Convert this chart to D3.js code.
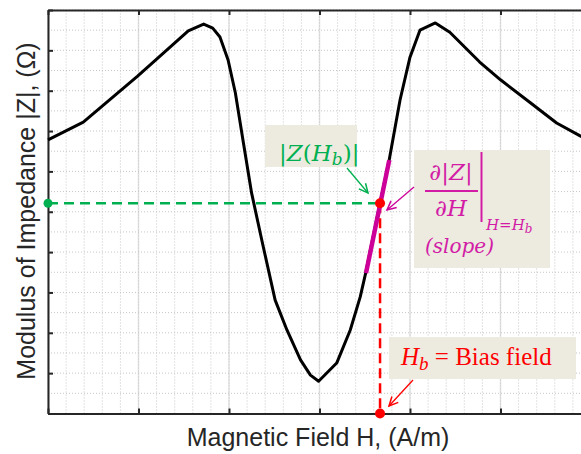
<!DOCTYPE html>
<html>
<head>
<meta charset="utf-8">
<script src="https://cdn.jsdelivr.net/npm/d3@7"></script>
<style>
  body { margin: 0; background: #fff; }
  svg { display: block; }
</style>
</head>
<body>
<div id="chart"></div>
<script>
// GMI curve: field H and |Z| in grid units (no tick labels on the original)
var hField = [0, 0.39, 0.99, 1.55, 1.72, 1.82, 1.90, 1.99, 2.07, 2.16, 2.25, 2.37, 2.51, 2.64, 2.79, 2.90, 2.99,
              3.19, 3.34, 3.45, 3.51, 3.67, 3.77, 3.89, 4.00, 4.11, 4.28, 4.44, 4.77, 5.00, 5.33, 5.62, 5.88, 6.00];
var impedance = [6.78, 7.22, 8.36, 9.48, 9.65, 9.55, 9.33, 8.76, 7.95, 6.70, 5.46, 4.22, 2.81, 2.07, 1.33, 0.95, 0.80,
                 1.25, 2.07, 2.89, 3.48, 5.22, 6.28, 7.77, 8.83, 9.50, 9.68, 9.45, 8.71, 8.27, 7.70, 7.20, 6.88, 6.75];

// tangent (slope) segment around the bias point
var slopeH = [3.514, 3.771];
var slopeZ = [3.48, 6.28];

// bias point
var biasH = 3.669;
var biasZ = 5.21;

var xTicks = [0, 1, 2, 3, 4, 5, 6];
var yTicks = [0, 1, 2, 3, 4, 5, 6, 7, 8, 9, 10];
var xMinor = d3.range(0, 6.01, 0.2);
var yMinor = d3.range(0, 10.01, 0.5);

var width = 581, height = 454;
var margin = { top: 10, right: -10, bottom: 40.5, left: 48 };

var green = "#00b050", red = "#ff0000", magenta = "#cc0099", magText = "#d21ca6";
var boxFill = "#edebe0";

var svg = d3.select("#chart").append("svg")
    .attr("width", width)
    .attr("height", height);

var x = d3.scaleLinear().domain([0, 6]).range([margin.left, width - margin.right]);
var y = d3.scaleLinear().domain([0, 10]).range([height - margin.bottom, margin.top]);

// grid
var grid = svg.append("g");
grid.selectAll(".vminor").data(xMinor).enter().append("line")
    .attr("x1", d => x(d)).attr("x2", d => x(d))
    .attr("y1", y(0)).attr("y2", y(10))
    .attr("stroke", "#c6c6c6").attr("stroke-width", 1)
    .attr("stroke-dasharray", "1,2");
grid.selectAll(".hminor").data(yMinor).enter().append("line")
    .attr("x1", x(0)).attr("x2", x(6))
    .attr("y1", d => y(d)).attr("y2", d => y(d))
    .attr("stroke", "#c6c6c6").attr("stroke-width", 1)
    .attr("stroke-dasharray", "1,2");
grid.selectAll(".vmajor").data(xTicks).enter().append("line")
    .attr("x1", d => x(d)).attr("x2", d => x(d))
    .attr("y1", y(0)).attr("y2", y(10))
    .attr("stroke", "#c8c8c8").attr("stroke-width", 1.5)
    .attr("stroke-dasharray", "1,1");

// axes with inward ticks, no labels
function styleAxis(g) {
    g.select(".domain").attr("stroke", "#262626").attr("stroke-width", 2);
    g.selectAll(".tick line").attr("stroke", "#262626").attr("stroke-width", 2);
}
svg.append("g")
    .attr("transform", "translate(0," + y(0) + ")")
    .call(d3.axisBottom(x).tickValues(xTicks).tickSizeInner(-5).tickSizeOuter(0).tickFormat(""))
    .call(styleAxis);
svg.append("g")
    .attr("transform", "translate(0," + y(10) + ")")
    .call(d3.axisTop(x).tickValues(xTicks).tickSizeInner(-5).tickSizeOuter(0).tickFormat(""))
    .call(styleAxis);
svg.append("g")
    .attr("transform", "translate(" + x(0) + ",0)")
    .call(d3.axisLeft(y).tickValues(yTicks).tickSizeInner(-5).tickSizeOuter(0).tickFormat(""))
    .call(styleAxis);

// curve
var line = d3.line().x(d => x(d[0])).y(d => y(d[1]));
svg.append("path")
    .datum(d3.zip(hField, impedance))
    .attr("d", line)
    .attr("fill", "none")
    .attr("stroke", "#000")
    .attr("stroke-width", 3)
    .attr("stroke-linejoin", "round");

// dashed guides to the axes
svg.append("line")
    .attr("x1", x(0)).attr("x2", x(biasH))
    .attr("y1", y(biasZ)).attr("y2", y(biasZ))
    .attr("stroke", green).attr("stroke-width", 2.5)
    .attr("stroke-dasharray", "10,6");
svg.append("line")
    .attr("x1", x(biasH)).attr("x2", x(biasH))
    .attr("y1", y(biasZ)).attr("y2", y(0))
    .attr("stroke", red).attr("stroke-width", 2.5)
    .attr("stroke-dasharray", "10,5");

// slope segment
svg.append("path")
    .datum(d3.zip(slopeH, slopeZ))
    .attr("d", line)
    .attr("stroke", magenta)
    .attr("stroke-width", 4.5);

// points
svg.append("circle").attr("cx", x(0)).attr("cy", y(biasZ)).attr("r", 4.5).attr("fill", green);
svg.append("circle").attr("cx", x(biasH)).attr("cy", y(biasZ)).attr("r", 5).attr("fill", red);
svg.append("circle").attr("cx", x(biasH)).attr("cy", y(0)).attr("r", 5).attr("fill", red);

// annotation boxes
function box(x0, y0, w, h) {
    svg.append("rect").attr("x", x0).attr("y", y0).attr("width", w).attr("height", h).attr("fill", boxFill);
}
box(265, 125, 92, 42);
box(414, 150, 136, 118);
box(389, 337, 187, 42);

function arrow(x1, y1, x2, y2, color) {
    svg.append("line").attr("x1", x1).attr("y1", y1).attr("x2", x2).attr("y2", y2)
        .attr("stroke", color).attr("stroke-width", 1.3);
    var a = Math.atan2(y2 - y1, x2 - x1), L = 10, s = 0.45;
    svg.append("path")
        .attr("d", "M" + (x2 - L * Math.cos(a - s)) + "," + (y2 - L * Math.sin(a - s)) +
            "L" + x2 + "," + y2 +
            "L" + (x2 - L * Math.cos(a + s)) + "," + (y2 - L * Math.sin(a + s)))
        .attr("fill", "none").attr("stroke", color).attr("stroke-width", 1.5);
}
arrow(347, 168, 368, 193, green);
arrow(414, 187, 387, 210, magenta);
arrow(413, 380, 389, 406, red);

var serif = "'DejaVu Serif', serif";
var times = "'Liberation Serif', 'Times New Roman', serif";

// |Z(H_b)|
var t1 = svg.append("text").attr("x", 279).attr("y", 161)
    .attr("font-family", serif).attr("font-size", 23).attr("fill", green);
t1.append("tspan").text("|");
t1.append("tspan").attr("font-style", "italic").text("Z");
t1.append("tspan").text("(");
t1.append("tspan").attr("font-style", "italic").text("H");
t1.append("tspan").attr("font-style", "italic").attr("font-size", 17).attr("dy", 4).text("b");
t1.append("tspan").attr("dy", -4).text(")|");

// derivative
svg.append("text").attr("x", 451).attr("y", 180).attr("text-anchor", "middle")
    .attr("font-family", serif).attr("font-size", 23).attr("fill", magText)
    .html("<tspan font-style='italic'>∂</tspan>|<tspan font-style='italic'>Z</tspan>|");
svg.append("line").attr("x1", 425).attr("x2", 478).attr("y1", 191).attr("y2", 191)
    .attr("stroke", magText).attr("stroke-width", 2);
svg.append("text").attr("x", 451).attr("y", 216).attr("text-anchor", "middle")
    .attr("font-family", serif).attr("font-size", 23).attr("fill", magText)
    .attr("font-style", "italic").text("∂H");
svg.append("line").attr("x1", 481.5).attr("x2", 481.5).attr("y1", 152).attr("y2", 222)
    .attr("stroke", magText).attr("stroke-width", 2);
var sub = svg.append("text").attr("x", 486).attr("y", 230)
    .attr("font-family", serif).attr("font-size", 15).attr("fill", magText);
sub.append("tspan").attr("font-style", "italic").text("H");
sub.append("tspan").text("=");
sub.append("tspan").attr("font-style", "italic").text("H");
sub.append("tspan").attr("font-style", "italic").attr("font-size", 12).attr("dy", 3).text("b");
svg.append("text").attr("x", 425).attr("y", 253)
    .attr("font-family", serif).attr("font-size", 20).attr("font-style", "italic")
    .attr("fill", magText).text("(slope)");

// H_b = Bias field
var t3 = svg.append("text").attr("x", 401).attr("y", 365)
    .attr("font-family", times).attr("font-size", 25).attr("fill", red);
t3.append("tspan").attr("font-style", "italic").text("H");
t3.append("tspan").attr("font-style", "italic").attr("font-size", 19).attr("dy", 5).text("b");
t3.append("tspan").attr("dy", -5).text(" = Bias field");

// axis titles
svg.append("text")
    .attr("x", 318).attr("y", 446)
    .attr("text-anchor", "middle")
    .attr("font-family", "'Liberation Sans', Arial, sans-serif")
    .attr("font-size", 25).attr("fill", "#262626")
    .text("Magnetic Field H, (A/m)");
svg.append("text")
    .attr("transform", "translate(35,211) rotate(-90)")
    .attr("text-anchor", "middle")
    .attr("font-family", "'Liberation Sans', Arial, sans-serif")
    .attr("font-size", 25).attr("fill", "#262626")
    .text("Modulus of Impedance |Z|, (Ω)");
</script>
</body>
</html>
